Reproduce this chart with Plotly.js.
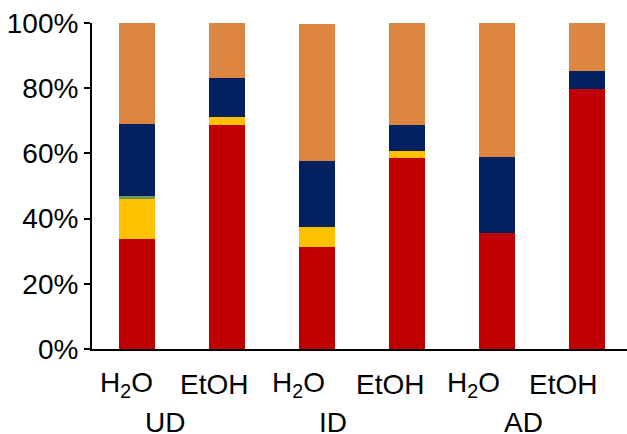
<!DOCTYPE html>
<html>
<head>
<meta charset="utf-8">
<script src="https://cdn.plot.ly/plotly-3.0.1.min.js"></script>
<style>html,body{margin:0;padding:0;background:#fff}#chart{width:627px;height:434px}</style>
</head>
<body>
<div id="chart"></div>
<script>
// Data
var categories = ["UD-H2O", "UD-EtOH", "ID-H2O", "ID-EtOH", "AD-H2O", "AD-EtOH"];
var solventLabels = ["H<sub>2</sub>O", "EtOH", "H<sub>2</sub>O", "EtOH", "H<sub>2</sub>O", "EtOH"];
var groupLabels = ["UD", "ID", "AD"];
var redValues    = [33.8, 68.8, 31.4, 58.7, 35.5, 79.7];
var yellowValues = [12.2, 2.5, 5.9, 2.0, 0, 0];
var greenValues  = [0.9, 0, 0, 0, 0, 0];
var navyValues   = [22.0, 11.8, 20.4, 8.1, 23.5, 5.5];
var orangeValues = [31.1, 16.9, 41.9, 31.2, 41.0, 14.8];
var yTickVals = [0, 20, 40, 60, 80, 100];
var yTickText = ["0%", "20%", "40%", "60%", "80%", "100%"];

// Label placement (data units along x axis)
var solventLabelX = [-0.12, 0.86, 1.79, 2.81, 3.74, 4.73];
var groupLabelX = [0.31, 2.18, 4.29];

var xIdx = categories.map(function(_, i){ return i; });
function series(vals, color){
  return {type:'bar', x:xIdx, y:vals, width:0.4, marker:{color:color, line:{width:0}}, hoverinfo:'skip'};
}
var data = [
  series(redValues, '#C00000'),
  series(yellowValues, '#FFC000'),
  series(greenValues, '#6E9B5A'),
  series(navyValues, '#002060'),
  series(orangeValues, '#DC8642')
];

var font = {family:'"Liberation Sans", Arial, sans-serif', size:28, color:'#000'};
var annotations = [];
solventLabels.forEach(function(t, i){
  annotations.push({text:t, x:solventLabelX[i], xref:'x', y:-0.11, yref:'paper', xanchor:'center', yanchor:'middle', showarrow:false, font:font});
});
groupLabels.forEach(function(t, i){
  annotations.push({text:t, x:groupLabelX[i], xref:'x', y:-0.224, yref:'paper', xanchor:'center', yanchor:'middle', showarrow:false, font:font});
});

var layout = {
  width:627, height:434,
  margin:{l:92, r:0, t:23, b:85},
  barmode:'stack',
  showlegend:false,
  paper_bgcolor:'#fff', plot_bgcolor:'#fff',
  font:font,
  xaxis:{range:[-0.5, 5.444], showline:true, linecolor:'#000', linewidth:2, showticklabels:false, ticks:'', showgrid:false, zeroline:false, fixedrange:true},
  yaxis:{range:[0,100], tickmode:'array', tickvals:yTickVals, ticktext:yTickText, ticks:'outside', ticklen:6, tickwidth:2, tickcolor:'#000', showline:true, linecolor:'#000', linewidth:2, showgrid:false, zeroline:false, tickfont:font, fixedrange:true},
  annotations:annotations
};
Plotly.newPlot('chart', data, layout, {staticPlot:true, displayModeBar:false});
</script>
</body>
</html>
